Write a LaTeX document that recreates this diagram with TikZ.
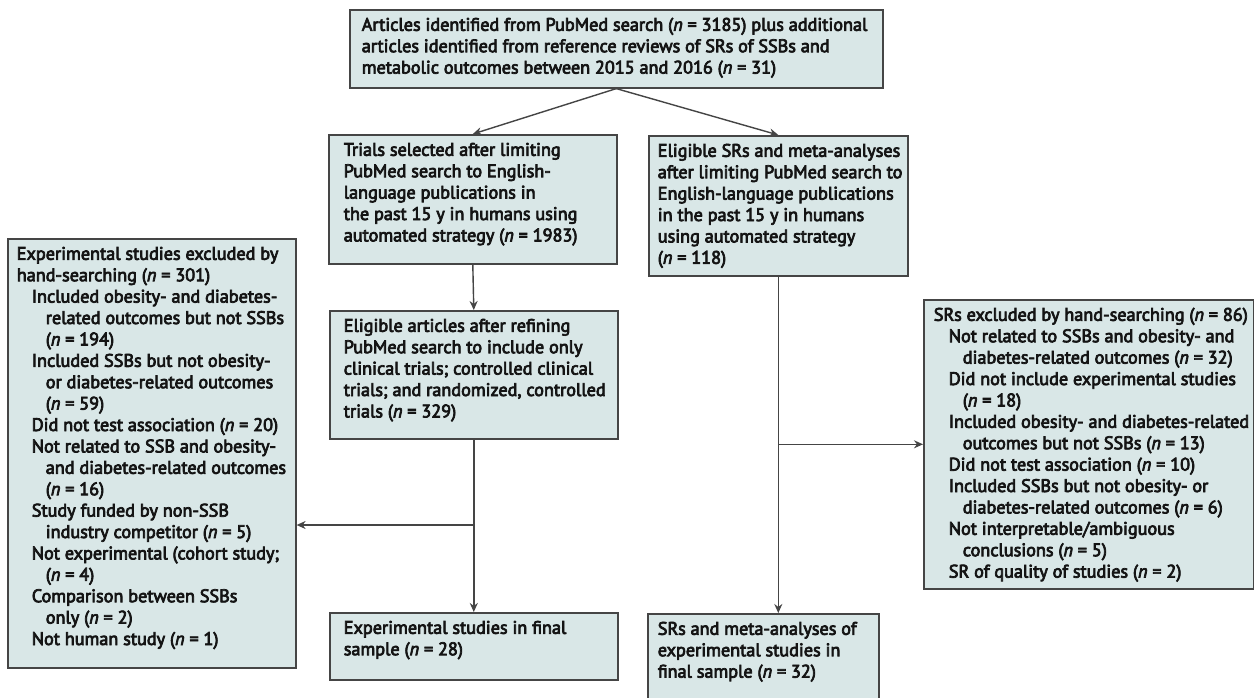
\documentclass[tikz,border=0pt]{standalone}
\usepackage{fontspec}
\setmainfont{PT Sans}[FakeBold=4]
\usetikzlibrary{arrows.meta}
\definecolor{bfill}{HTML}{D9E7E7}
\definecolor{bline}{HTML}{454545}
\definecolor{txt}{HTML}{141414}
\newcommand\bxt[3]{\makebox[#1][l]{\hspace*{#2}\begin{tabular}[t]{@{}l@{}}#3\end{tabular}}}
\newcommand\indA{\hspace*{7.5pt}}
\newcommand\indB{\hspace*{14.5pt}}
\newcommand\nval{\textit{n}}
\begin{document}
\begin{tikzpicture}[x=0.5pt,y=-0.5pt,
  flowbox/.style={draw=bline, fill=bfill, line width=0.8pt, inner xsep=0pt, inner ysep=3pt,
    anchor=north west, text height=7.5pt, text=txt, font=\fontsize{9.1pt}{10.7pt}\selectfont},
  conn/.style={draw=bline, line width=0.7pt},
  arr/.style={conn, -{Stealth[length=4.5pt,width=4pt]}}]
\fill[white] (0,0) rectangle (1254,697);
\useasboundingbox (0,0) rectangle (1254,697);

\node[flowbox, text depth=25.5pt] (top) at (349,9) {\bxt{266.5pt}{6pt}{%
Articles identified from PubMed search (\nval{} = 3185) plus additional\\
articles identified from reference reviews of SRs of SSBs and\\
metabolic outcomes between 2015 and 2016 (\nval{} = 31)}};

\node[flowbox, text depth=51pt] (trials) at (328,134) {\bxt{144pt}{7.5pt}{%
Trials selected after limiting\\
PubMed search to English-\\
language publications in\\
the past 15 y in humans using\\
automated strategy (\nval{} = 1983)}};

\node[flowbox, text depth=56.5pt] (eligSR) at (648,135) {\bxt{129.5pt}{4.5pt}{%
Eligible SRs and meta-analyses\\
after limiting PubMed search to\\
English-language publications\\
in the past 15 y in humans\\
using automated strategy\\
(\nval{} = 118)}};

\node[flowbox, text depth=50.5pt] (eligArt) at (329,310) {\bxt{144pt}{7pt}{%
Eligible articles after refining\\
PubMed search to include only\\
clinical trials; controlled clinical\\
trials; and randomized, controlled\\
trials (\nval{} = 329)}};

\node[flowbox, text depth=20pt] (expFinal) at (329,612) {\bxt{144pt}{7pt}{%
Experimental studies in final\\
sample (\nval{} = 28)}};

\node[flowbox, text depth=30.5pt] (srFinal) at (647,613) {\bxt{115.5pt}{5pt}{%
SRs and meta-analyses of\\
experimental studies in\\
final sample (\nval{} = 32)}};

\node[flowbox, text depth=201pt] (left) at (7,238) {\bxt{144pt}{4.5pt}{%
Experimental studies excluded by\\
hand-searching (\nval{} = 301)\\
\indA Included obesity- and diabetes-\\
\indB related outcomes but not SSBs\\
\indB (\nval{} = 194)\\
\indA Included SSBs but not obesity-\\
\indB or diabetes-related outcomes\\
\indB (\nval{} = 59)\\
\indA Did not test association (\nval{} = 20)\\
\indA Not related to SSB and obesity-\\
\indB and diabetes-related outcomes\\
\indB (\nval{} = 16)\\
\indA Study funded by non-SSB\\
\indB industry competitor (\nval{} = 5)\\
\indA Not experimental (cohort study;\\
\indB (\nval{} = 4)\\
\indA Comparison between SSBs\\
\indB only (\nval{} = 2)\\
\indA Not human study (\nval{} = 1)}};

\node[flowbox, text depth=131pt] (right) at (923,299) {\bxt{165pt}{5pt}{%
SRs excluded by hand-searching (\nval{} = 86)\\
\indA Not related to SSBs and obesity- and\\
\indB diabetes-related outcomes (\nval{} = 32)\\
\indA Did not include experimental studies\\
\indB (\nval{} = 18)\\
\indA Included obesity- and diabetes-related\\
\indB outcomes but not SSBs (\nval{} = 13)\\
\indA Did not test association (\nval{} = 10)\\
\indA Included SSBs but not obesity- or\\
\indB diabetes-related outcomes (\nval{} = 6)\\
\indA Not interpretable/ambiguous\\
\indB conclusions (\nval{} = 5)\\
\indA SR of quality of studies (\nval{} = 2)}};

\coordinate (jl) at (472.5,525);
\draw[arr] (top.south) -- (trials.north);
\draw[arr] (top.south) -- (eligSR.north);
\draw[arr] (trials.south) -- (eligArt.north);
\draw[arr] (eligArt.south) -- (expFinal.north);
\draw[arr] (jl) -- (jl -| left.east);
\draw[arr] (eligSR.south) -- (eligSR.south |- srFinal.north);
\draw[arr] (eligSR.south |- right.west) -- (right.west);
\end{tikzpicture}
\end{document}
